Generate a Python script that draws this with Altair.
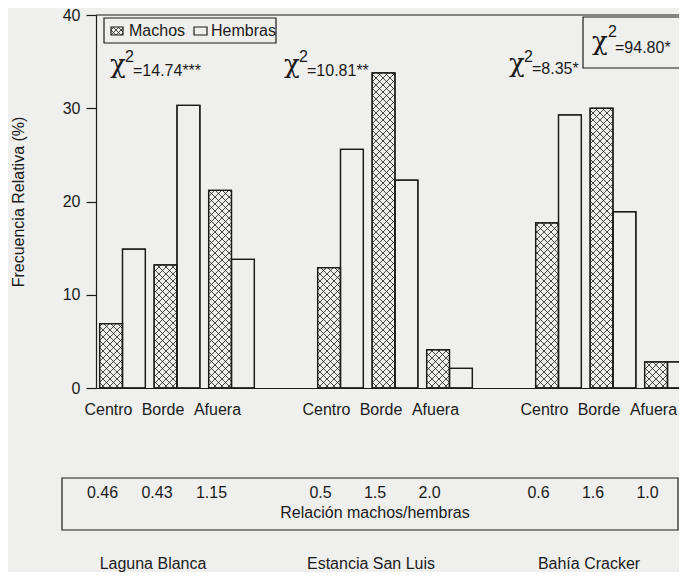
import altair as alt
import numpy as np
import pandas as pd

# ---------------- data ----------------
sites = ["Laguna Blanca", "Estancia San Luis", "Bahía Cracker"]
zones = ["Centro", "Borde", "Afuera"]
machos = [6.9, 13.2, 21.2, 12.9, 33.8, 4.1, 17.7, 30.0, 2.8]
hembras = [14.9, 30.3, 13.8, 25.6, 22.3, 2.1, 29.3, 18.9, 2.8]
ratios = ["0.46", "0.43", "1.15", "0.5", "1.5", "2.0", "0.6", "1.6", "1.0"]
chi_site = ["=14.74***", "=10.81**", "=8.35*"]
chi_total = "=94.80*"
legend_labels = ["Machos", "Hembras"]
y_ticks = [0, 10, 20, 30, 40]

# ---------------- layout / style ----------------
LEFT, TOP = 96, 15        # page position of the plot's top-left corner
W, H = 583, 373
PX = 54.5                 # pixels per slot
XMIN = -26.5 / PX
XMAX = XMIN + W / PX
HALF = 0.42               # bar width in slot units
YMAX = 40
INK = "#1b1b1b"
BG = "#efefed"
SANS = "Liberation Sans"
SERIF = "DejaVu Serif"


def px(page_x):
    return page_x - LEFT


def py(page_y):
    return page_y - TOP


def px2x(p):
    return XMIN + p / PX


def py2y(p):
    return YMAX * (H - p) / H


def x2px(x):
    return (x - XMIN) * PX


def y2py(y):
    return H - y * H / YMAX


rows = []
for i, site in enumerate(sites):
    for j, zone in enumerate(zones):
        k = 3 * i + j
        s = 4 * i + j
        rows.append(dict(site=site, zone=zone, sex="Machos", value=machos[k],
                         slot=s, x0=s - HALF, x1=s, base=0.0))
        rows.append(dict(site=site, zone=zone, sex="Hembras", value=hembras[k],
                         slot=s, x0=s, x1=s + HALF, base=0.0))
bars = pd.DataFrame(rows)


def hatch_segments(x0p, x1p, y0p, y1p, step=7.0):
    segs = []
    cmin, cmax = x0p - y1p, x1p - y0p
    for k in range(int(np.ceil(cmin / step)), int(np.floor(cmax / step)) + 1):
        c = k * step
        xa, xb = max(x0p, y0p + c), min(x1p, y1p + c)
        if xb - xa > 0.3:
            segs.append((xa, xa - c, xb, xb - c))
    cmin, cmax = x0p + y0p, x1p + y1p
    for k in range(int(np.ceil(cmin / step)), int(np.floor(cmax / step)) + 1):
        c = k * step
        xa, xb = max(x0p, c - y1p), min(x1p, c - y0p)
        if xb - xa > 0.3:
            segs.append((xa, c - xa, xb, c - xb))
    return segs


# legend icon boxes (plot pixels)
ICON_M = (px(111), px(123), py(27), py(35))
ICON_H = (px(194), px(207), py(27), py(35))

hrows = []
for _, r in bars[bars.sex == "Machos"].iterrows():
    for (ax, ay, bx, by) in hatch_segments(x2px(r.x0), x2px(r.x1), y2py(r.value), y2py(0)):
        hrows.append(dict(hx=px2x(ax), hy=py2y(ay), hx2=px2x(bx), hy2=py2y(by)))
for (ax, ay, bx, by) in hatch_segments(*ICON_M, step=5.0):
    hrows.append(dict(hx=px2x(ax), hy=py2y(ay), hx2=px2x(bx), hy2=py2y(by)))
hatch = pd.DataFrame(hrows)

xscale = alt.Scale(domain=[XMIN, XMAX], nice=False, zero=False)
yscale = alt.Scale(domain=[0, YMAX], nice=False)
xaxis = alt.Axis(labels=False, ticks=False, grid=False, title=None,
                 domainColor=INK, domainWidth=1.2)
yaxis = alt.Axis(values=y_ticks, tickSize=10, tickColor=INK, tickWidth=1.2,
                 labelPadding=6, labelFontSize=16, labelFont=SANS, labelColor=INK,
                 domainColor=INK, domainWidth=1.2, grid=False,
                 title="Frecuencia Relativa (%)", titleFont=SANS, titleFontSize=16,
                 titleFontWeight="normal", titleColor=INK, titlePadding=36)

X = lambda f: alt.X(f, scale=xscale, axis=xaxis)
Y = lambda f: alt.Y(f, scale=yscale, axis=yaxis)

one = pd.DataFrame({"t": [""]})


def txt(s, x, y, size=16, font=SANS, align="left", baseline="alphabetic"):
    return alt.Chart(pd.DataFrame({"t": [s]})).mark_text(
        font=font, fontSize=size, color=INK, align=align, baseline=baseline
    ).encode(x=alt.value(px(x)), y=alt.value(py(y)), text="t:N")


def box(x, x2, y, y2):
    return alt.Chart(one).mark_rect(fillOpacity=0, stroke=INK, strokeWidth=1.2).encode(
        x=alt.value(x), x2=alt.value(x2), y=alt.value(y), y2=alt.value(y2))


def pbox(x, x2, y, y2):
    return box(px(x), px(x2), py(y), py(y2))


top_rule = alt.Chart(one).mark_rule(color=INK, strokeWidth=1.2).encode(
    x=alt.value(0), x2=alt.value(W), y=alt.value(0))

bar_fill = alt.Chart(bars).mark_rect(fill=BG, stroke=INK, strokeWidth=1.2, clip=True).encode(
    x=X("x0:Q"), x2="x1:Q", y=Y("value:Q"), y2="base:Q")

hatch_layer = alt.Chart(hatch).mark_rule(color=INK, strokeWidth=0.8, clip=False).encode(
    x=X("hx:Q"), x2="hx2:Q", y=Y("hy:Q"), y2="hy2:Q")

bar_line = alt.Chart(bars).mark_rect(fillOpacity=0, stroke=INK, strokeWidth=1.3, clip=True).encode(
    x=X("x0:Q"), x2="x1:Q", y=Y("value:Q"), y2="base:Q")

cats = pd.DataFrame([dict(slot=4 * i + j, zone=z, ratio=ratios[3 * i + j])
                     for i in range(3) for j, z in enumerate(zones)])
sites_df = pd.DataFrame([dict(slot=4 * i + 1, site=s) for i, s in enumerate(sites)])

zone_text = alt.Chart(cats).mark_text(fontSize=16, font=SANS, color=INK, dx=-14,
                                      baseline="middle").encode(
    x=X("slot:Q"), y=alt.value(py(410)), text="zone:N")
ratio_text = alt.Chart(cats).mark_text(fontSize=16, font=SANS, color=INK, dx=-20,
                                       baseline="middle").encode(
    x=X("slot:Q"), y=alt.value(py(493)), text="ratio:N")
site_text = alt.Chart(sites_df).mark_text(fontSize=16, font=SANS, color=INK, dx=-24,
                                          baseline="middle").encode(
    x=X("slot:Q"), y=alt.value(py(564)), text="site:N")

layers = [
    top_rule, bar_fill, hatch_layer, bar_line,
    zone_text, ratio_text, site_text,
    pbox(62, 678, 478, 530),
    txt("Relación machos/hembras", 375, 513, baseline="middle", align="center"),
    # legend
    pbox(104, 276, 18, 43),
    box(ICON_M[0], ICON_M[1], ICON_M[2], ICON_M[3]),
    box(ICON_H[0], ICON_H[1], ICON_H[2], ICON_H[3]),
    txt(legend_labels[0], 129, 31, baseline="middle"),
    txt(legend_labels[1], 211, 31, baseline="middle"),
    # chi-square per site
    txt("χ", 110, 73, size=26, font=SERIF),
    txt("2", 125, 62),
    txt(chi_site[0], 133, 76),
    txt("χ", 284, 73, size=26, font=SERIF),
    txt("2", 299, 62),
    txt(chi_site[1], 307, 76),
    txt("χ", 509, 72, size=26, font=SERIF),
    txt("2", 524, 62),
    txt(chi_site[2], 532, 74),
    # total chi-square
    pbox(583, 700, 17, 68),
    txt("χ", 592, 50, size=26, font=SERIF),
    txt("2", 608, 37),
    txt(chi_total, 615, 53),
]

chart = alt.layer(*layers).properties(
    width=W, height=H,
    autosize=alt.AutoSizeParams(type="none"),
    padding={"left": LEFT - 8, "top": TOP - 8, "right": 0, "bottom": 184},
    background=BG,
).configure_view(stroke=None)

chart.save("out.html", embed_options={"renderer": "svg", "actions": False})
